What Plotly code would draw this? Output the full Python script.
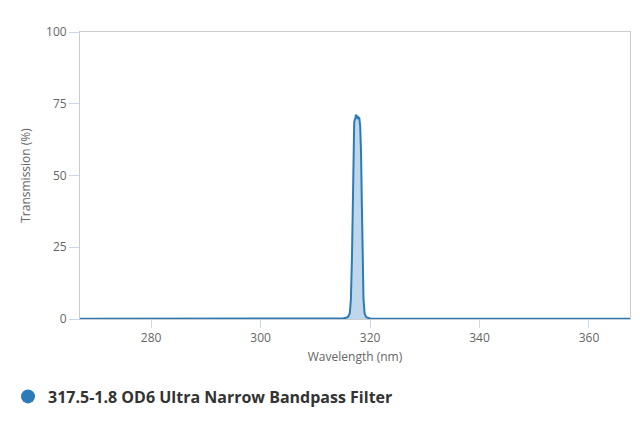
import plotly.graph_objects as go

# Transmission curve (nm, %)
wavelength = [267.0, 280.0, 300.0, 310.0, 315.0, 315.6, 316.0, 316.3, 316.5,
              316.7, 316.85, 317.0, 317.1, 317.3, 317.45, 317.6, 317.75,
              317.9, 318.05, 318.2, 318.35, 318.5, 318.65, 318.8, 319.0,
              319.3, 320.0, 330.0, 340.0, 360.0, 367.5]
transmission = [0.1, 0.1, 0.1, 0.1, 0.2, 0.4, 0.8, 2.0, 7.0,
                22.0, 45.0, 65.0, 68.6, 70.0, 71.2, 70.6, 69.7,
                70.2, 69.9, 67.0, 58.0, 40.0, 20.0, 7.0, 2.0,
                0.6, 0.2, 0.1, 0.1, 0.1, 0.1]

series_name = "317.5-1.8 OD6 Ultra Narrow Bandpass Filter"
x_ticks = [280, 300, 320, 340, 360]
y_ticks = [0, 25, 50, 75, 100]

LINE = "#2b7bb9"
FILL = "rgba(43,123,185,0.3)"
TICK = "#ccd6eb"
GREY_TXT = "#666666"

fig = go.Figure()

fig.add_trace(go.Scatter(
    x=wavelength,
    y=transmission,
    mode="lines",
    line=dict(color=LINE, width=2),
    fill="tozeroy",
    fillcolor=FILL,
    showlegend=False,
))

# legend entry only (round marker like the original)
fig.add_trace(go.Scatter(
    x=[None], y=[None],
    mode="markers",
    marker=dict(color=LINE, size=14, symbol="circle"),
    name=series_name,
))

# page body adds 8px; left margin is zero and the x domain leaves room
# for the y axis, so the legend can sit at the far left
fig.update_layout(
    width=640,
    height=427,
    margin=dict(l=0, r=18, t=24, b=116),
    paper_bgcolor="white",
    plot_bgcolor="white",
    font=dict(family="Open Sans", size=12, color=GREY_TXT),
    legend=dict(
        orientation="h",
        x=0.0, xanchor="left",
        y=-0.27, yanchor="middle",
        font=dict(family="Open Sans", size=16, color="#333333", weight="bold"),
        itemwidth=30,
    ),
)

fig.update_xaxes(
    domain=[0.1158, 1.0],
    range=[267, 367.5],
    tickvals=x_ticks,
    ticks="outside",
    ticklen=8,
    tickcolor=TICK,
    showgrid=False,
    zeroline=False,
    showline=True,
    linecolor="#cccccc",
    mirror=True,
    title=dict(text="Wavelength (nm)", standoff=7,
               font=dict(size=12, color=GREY_TXT)),
    tickfont=dict(size=12, color=GREY_TXT),
)

fig.update_yaxes(
    range=[0, 100],
    tickvals=y_ticks,
    ticks="outside",
    ticklen=10,
    tickcolor=TICK,
    showgrid=False,
    zeroline=False,
    showline=True,
    linecolor="#cccccc",
    mirror=True,
    title=dict(text="Transmission (%)", standoff=12,
               font=dict(size=12, color=GREY_TXT)),
    tickfont=dict(size=12, color=GREY_TXT),
)

fig.write_html("out.html")
